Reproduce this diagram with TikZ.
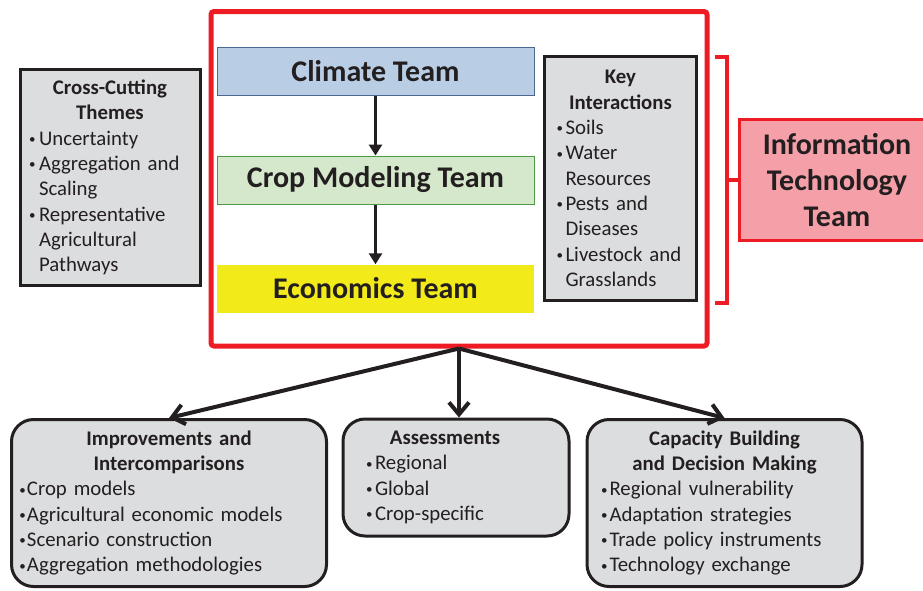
\documentclass[tikz,border=0pt]{standalone}
\usepackage{fontspec}
\setmainfont{Carlito}
\usetikzlibrary{arrows.meta,positioning}

\definecolor{ink}{HTML}{231F20}
\definecolor{frame}{HTML}{ED1C24}
\definecolor{boxgrey}{HTML}{DCDDDF}
\definecolor{climfill}{HTML}{B9CDE5}
\definecolor{climline}{HTML}{4A6790}
\definecolor{cropfill}{HTML}{D5E8CB}
\definecolor{cropline}{HTML}{4E9A48}
\definecolor{econfill}{HTML}{F2EA19}
\definecolor{itfill}{HTML}{F5A0A9}

\tikzset{
  team/.style={minimum width=317pt, minimum height=48pt, text=ink,
    font=\fontsize{30}{36}\selectfont\bfseries},
  greybox/.style={draw=ink, line width=3pt, fill=boxgrey, inner ysep=0pt,
    align=left, text=ink, font=\fontsize{20.8}{25.3}\selectfont},
  roundbox/.style={greybox, rounded corners=22pt},
  flow/.style={-{Triangle[width=13pt,length=11pt]}, line width=3.3pt, draw=ink},
  spread/.style={-{Straight Barb[width=20pt,length=12pt]}, line width=4pt, draw=ink},
  bracket/.style={line width=3.5pt, draw=frame}
}

\newcommand{\itm}[1][9.5pt]{\par\hangindent=#1\hangafter=1\noindent
  \makebox[#1][l]{\raisebox{1.6pt}{\fontsize{13}{13}\selectfont\textbullet}}}

\begin{document}
\begin{tikzpicture}[x=1pt,y=-1pt]
\clip (0,0) rectangle (923,590);

% core teams
\node[draw=frame, line width=5pt, rounded corners=3pt,
  minimum width=496pt, minimum height=334.5pt] (core) at (459,178.75) {};
\node[team, fill=climfill, draw=climline, line width=1pt] (climate) at (375.5,71.5) {Climate Team};
\node[team, fill=cropfill, draw=cropline, line width=1pt] (crop) at (375.5,180) {Crop Modeling Team};
\node[team, fill=econfill] (econ) at (375.5,288.5) {Economics Team};
\draw[flow] (climate) -- (crop);
\draw[flow] (crop) -- (econ);

\node[greybox, text width=162pt, inner xsep=9pt, minimum height=216pt] (themes) at (110,177.5)
  {{\centering\bfseries Cross-Cutting\\Themes\par}
   \itm[10pt]Uncertainty
   \itm[10pt]Aggregation and\newline Scaling
   \itm[10pt]Representative\newline Agricultural\newline Pathways\par};

\node[greybox, text width=128pt, inner xsep=12pt, minimum height=244pt] (links) at (620.5,178.5)
  {{\centering\bfseries Key\\Interactions\par}
   \itm[9pt]Soils
   \itm[9pt]Water\newline Resources
   \itm[9pt]Pests and\newline Diseases
   \itm[9pt]Livestock and\newline Grasslands\par};

% information technology
\node[draw=frame, fill=itfill, line width=3pt, minimum width=195pt, minimum height=121pt,
  align=center, text=ink, font=\fontsize{30}{36}\selectfont\bfseries] (it) at (837,180)
  {Information\\Technology\\Team};
\coordinate (btop) at (715,57);
\coordinate (bbot) at (715,303);
\coordinate (bmid) at (727,180);
\draw[bracket] (btop) -- ++(12,0) |- (bbot);
\draw[bracket] (bmid) -- (it.west);

% outcomes
\node[roundbox, text width=299pt, inner xsep=8pt, minimum height=167pt] (improve) at (169,503)
  {{\centering\bfseries Improvements and\\Intercomparisons\par}
   \itm[7.5pt]Crop models
   \itm[7.5pt]Agricultural economic models
   \itm[7.5pt]Scenario construction
   \itm[7.5pt]Aggregation methodologies\par};

\node[roundbox, text width=180pt, inner xsep=23pt, minimum height=117pt] (assess) at (456,477.5)
  {{\centering\bfseries Assessments\hspace*{22pt}\par}
   \itm[9pt]Regional
   \itm[9pt]Global
   \itm[9pt]Crop-specific\par};

\node[roundbox, text width=247pt, inner xsep=14pt, minimum height=167pt] (capacity) at (724.5,503)
  {{\centering\bfseries Capacity Building\\and Decision Making\par}
   \itm[8.5pt]Regional vulnerability
   \itm[8.5pt]Adaptation strategies
   \itm[8.5pt]Trade policy instruments
   \itm[8.5pt]Technology exchange\par};

\draw[spread] (core.south) -- (improve.north);
\draw[spread] (core.south) -- (core.south |- assess.north);
\draw[spread] (core.south) -- (capacity.north);
\end{tikzpicture}
\end{document}
